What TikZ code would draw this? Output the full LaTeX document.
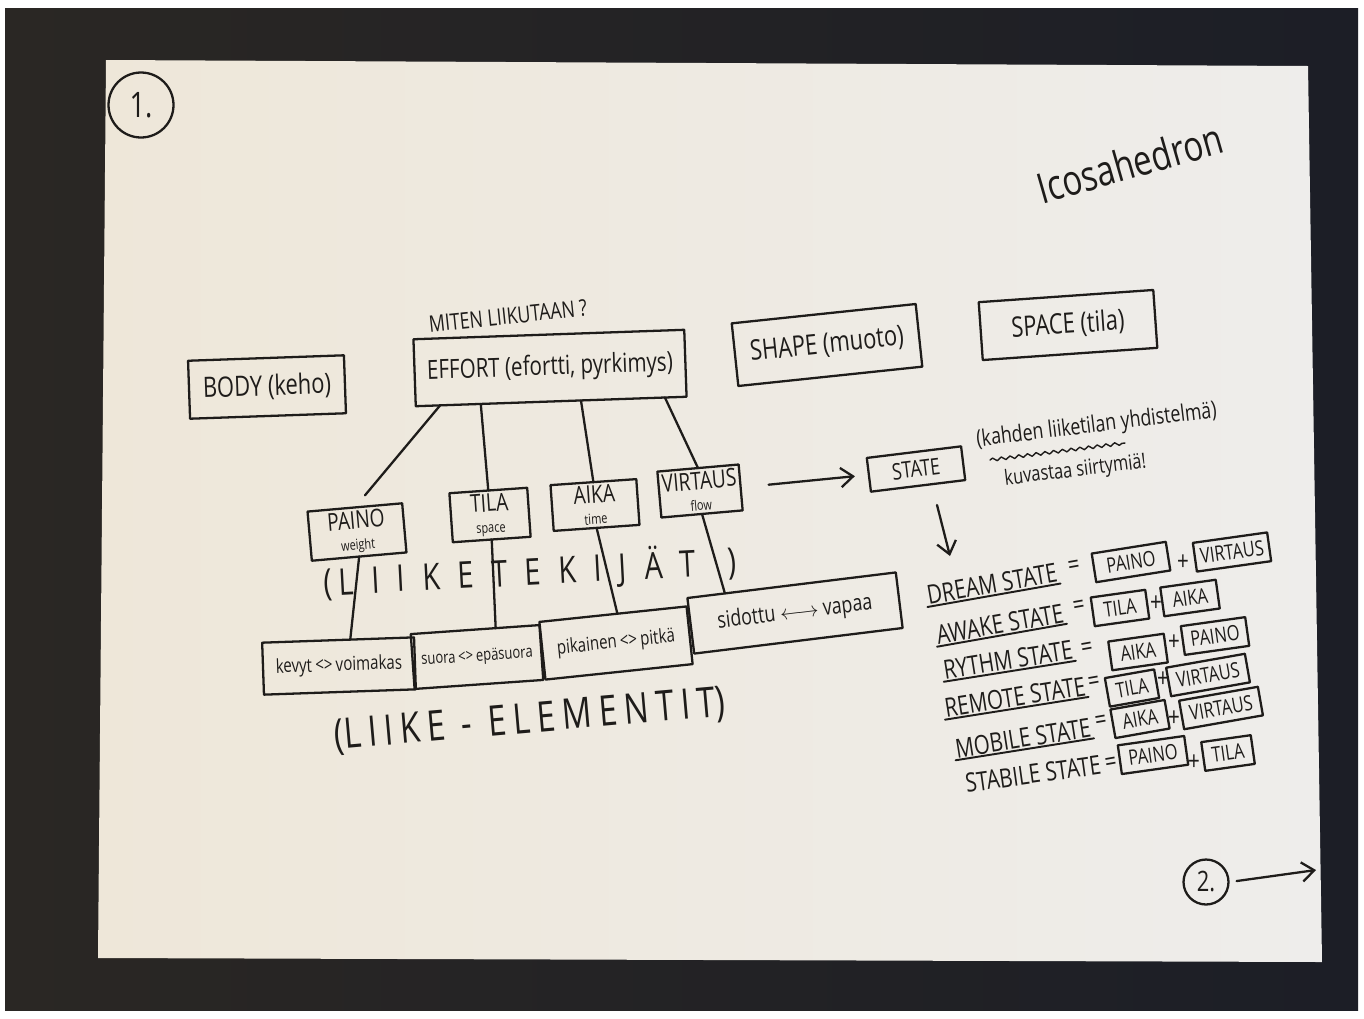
\documentclass[tikz,border=0pt]{standalone}
\usepackage{fontspec}
\setmainfont{Open Sans}[FakeStretch=0.78]
\usetikzlibrary{arrows.meta,calc,decorations.pathmorphing}
\definecolor{inkc}{HTML}{1E1C1A}
\definecolor{paperL}{HTML}{EEE7D9}
\definecolor{paperR}{HTML}{EEEDEB}
\definecolor{deskL}{HTML}{2A2724}
\definecolor{deskR}{HTML}{1C1E26}
\newcommand\fs[1]{\fontsize{#1}{#1}\selectfont}
\begin{document}
\begin{tikzpicture}[x=0.02cm,y=-0.02cm,
  ink/.style={draw=inkc,line width=1.3pt,line cap=round,line join=round},
  box/.style={ink,rectangle,inner sep=2pt,text=inkc,outer sep=0pt},
  hand/.style={text=inkc,inner sep=1pt,outer sep=0pt},
  arr/.style={ink,-{Straight Barb[length=7pt,width=11pt]}},
  fbox/.style={box,minimum height=0.58cm,font=\fs{12}},
  slab/.style={hand,font=\fs{15}},
  sym/.style={hand,font=\fs{15}},
  under/.style={ink,line width=1.1pt}]
\fill[white] (0,0) rectangle (1364,1018);
\shade[left color=deskL,right color=deskR] (5,8) rectangle (1358,1010);
\shade[left color=paperL,right color=paperR] (106,60) -- (1308,66) -- (1322,962) -- (98,958) -- cycle;
\useasboundingbox (0,0) rectangle (1364,1018);

% page number and title
\node[ink,circle,minimum size=1.3cm,text=inkc,font=\fs{20}] (one) at (141,105) {1.};
\node[hand,rotate=16,font=\fs{24}] (ico) at (1130,163) {Icosahedron};

% top boxes
\node[box,rotate=2,minimum width=3.12cm,minimum height=1.16cm,font=\fs{16}] (body) at (267,387) {BODY (keho)};
\node[hand,rotate=6,font=\fs{13}] (miten) at (508,316) {MITEN LIIKUTAAN ?};
\node[box,rotate=2,minimum width=5.42cm,minimum height=1.34cm,font=\fs{15}] (effort) at (550,368) {EFFORT (efortti, pyrkimys)};
\node[box,rotate=6,minimum width=3.7cm,minimum height=1.26cm,font=\fs{16}] (shape) at (827,345) {SHAPE (muoto)};
\node[box,rotate=4,minimum width=3.5cm,minimum height=1.16cm,font=\fs{16}] (space) at (1068,325) {SPACE (tila)};

% factor boxes
\node[box,rotate=5,minimum width=1.9cm,minimum height=0.8cm,align=center,font=\fs{14}] (paino) at (357,532) {PAINO\\[-2pt]{\fs{8}weight}};
\node[box,rotate=4,minimum width=1.56cm,minimum height=0.8cm,align=center,font=\fs{14}] (tila) at (490,515) {TILA\\[-2pt]{\fs{8}space}};
\node[box,rotate=4,minimum width=1.72cm,minimum height=0.8cm,align=center,font=\fs{14}] (aika) at (595,505) {AIKA\\[-2pt]{\fs{8}time}};
\node[box,rotate=5,minimum width=1.6cm,minimum height=0.76cm,align=center,font=\fs{14}] (virtaus) at (700,491) {VIRTAUS\\[-2pt]{\fs{8}flow}};

\draw[ink,shorten >=9pt] ($(effort.south west)!0.09!(effort.south east)$) -- (paino.north);
\draw[ink] ($(effort.south west)!0.24!(effort.south east)$) -- (tila.north);
\draw[ink] ($(effort.south west)!0.61!(effort.south east)$) -- (aika.north);
\draw[ink] ($(effort.south west)!0.92!(effort.south east)$) -- (virtaus.north);

\node[hand,rotate=3,font=\fs{21}] (tekijat) at (530,572) {(\hspace{4pt}L\hspace{10pt}I\hspace{10pt}I\hspace{10pt}K\hspace{10pt}E\hspace{10pt}T\hspace{10pt}E\hspace{10pt}K\hspace{10pt}I\hspace{10pt}J\hspace{10pt}Ä\hspace{10pt}T\hspace{18pt})};

% element boxes
\node[box,rotate=2,minimum width=3.04cm,minimum height=1.04cm,font=\fs{11}] (kevyt) at (339,666) {kevyt\,<>\,voimakas};
\node[box,rotate=4,minimum width=2.58cm,minimum height=1.1cm,font=\fs{9.5}] (suora) at (477,657) {suora\,<>\,epäsuora};
\node[box,rotate=6,minimum width=2.96cm,minimum height=1.16cm,font=\fs{11}] (pikainen) at (616,643) {pikainen\,<>\,pitkä};
\node[box,rotate=7,minimum width=4.2cm,minimum height=1.12cm,font=\fs{13}] (sidottu) at (795,613) {sidottu $\longleftrightarrow$ vapaa};

\draw[ink] (paino.south) -- ($(kevyt.north west)!0.58!(kevyt.north east)$);
\draw[ink] (tila.south) -- ($(suora.north west)!0.66!(suora.north east)$);
\draw[ink] (aika.south) -- ($(pikainen.north west)!0.53!(pikainen.north east)$);
\draw[ink] (virtaus.south) -- ($(sidottu.north west)!0.18!(sidottu.north east)$);

\node[hand,rotate=5,font=\fs{24}] (elementit) at (530,721) {(L\hspace{4pt}I\hspace{4pt}I\hspace{4pt}K\hspace{4pt}E\hspace{9pt}-\hspace{9pt}E\hspace{4pt}L\hspace{4pt}E\hspace{4pt}M\hspace{4pt}E\hspace{4pt}N\hspace{4pt}T\hspace{4pt}I\hspace{4pt}T)};

% state
\node[box,rotate=7,minimum width=1.9cm,minimum height=0.68cm,font=\fs{13}] (state) at (916,469) {STATE};
\draw[arr,shorten <=16pt,shorten >=8pt] (virtaus.east) -- (state.west);
\node[hand,rotate=7,anchor=west,font=\fs{13}] (note1) at (975,441) {(kahden liiketilan yhdistelmä)};
\node[hand,rotate=7,anchor=west,font=\fs{12}] (note2) at (1003,480) {kuvastaa siirtymiä!};
\draw[ink,line width=0.8pt,decorate,decoration={snake,amplitude=0.9pt,segment length=5pt}] (990,460) -- (1125,443);
\coordinate (dnA) at (937,505);
\coordinate (dnB) at (950,556);
\draw[arr] (dnA) -- (dnB);

% state list
\node[slab,rotate=10] (l1) at (992,584) {DREAM STATE};
\draw[under] (l1.south west) -- (l1.south east);
\node[sym,rotate=10] (e1) at (1074,567) {=};
\node[fbox,rotate=9,minimum width=1.5cm] (b1a) at (1131,562) {PAINO};
\node[sym] (p1) at (1183,563) {+};
\node[fbox,rotate=8,minimum width=1.5cm] (b1b) at (1232,552) {VIRTAUS};

\node[slab,rotate=10] (l2) at (1000,624) {AWAKE STATE};
\draw[under] (l2.south west) -- (l2.south east);
\node[sym,rotate=10] (e2) at (1079,607) {=};
\node[fbox,rotate=8,minimum width=1.1cm] (b2a) at (1120,608) {TILA};
\node[sym] (p2) at (1156,604) {+};
\node[fbox,rotate=8,minimum width=1.12cm] (b2b) at (1190,598) {AIKA};

\node[slab,rotate=9] (l3) at (1008,660) {RYTHM STATE};
\draw[under] (l3.south west) -- (l3.south east);
\node[sym,rotate=10] (e3) at (1087,649) {=};
\node[fbox,rotate=8,minimum width=1.12cm] (b3a) at (1138,652) {AIKA};
\node[sym] (p3) at (1174,643) {+};
\node[fbox,rotate=8,minimum width=1.3cm] (b3b) at (1215,636) {PAINO};

\node[slab,rotate=9] (l4) at (1015,697) {REMOTE STATE};
\draw[under] (l4.south west) -- (l4.south east);
\node[sym,rotate=10] (e4) at (1094,683) {=};
\node[fbox,rotate=10,minimum width=1.0cm] (b4a) at (1132,688) {TILA};
\node[sym] (p4) at (1163,680) {+};
\node[fbox,rotate=10,minimum width=1.6cm] (b4b) at (1208,675) {VIRTAUS};

\node[slab,rotate=9] (l5) at (1023,738) {MOBILE STATE};
\draw[under] (l5.south west) -- (l5.south east);
\node[sym,rotate=10] (e5) at (1101,722) {=};
\node[fbox,rotate=10,minimum width=1.1cm] (b5a) at (1140,719) {AIKA};
\node[sym] (p5) at (1174,719) {+};
\node[fbox,rotate=10,minimum width=1.6cm] (b5b) at (1221,708) {VIRTAUS};

\node[slab,rotate=8] (l6) at (1033,774) {STABILE STATE};
\node[sym,rotate=10] (e6) at (1111,764) {=};
\node[fbox,rotate=8,minimum width=1.34cm] (b6a) at (1153,755) {PAINO};
\node[sym] (p6) at (1194,763) {+};
\node[fbox,rotate=8,minimum width=1.0cm] (b6b) at (1228,753) {TILA};

% page 2 marker
\node[ink,circle,minimum size=0.9cm,text=inkc,font=\fs{16}] (two) at (1206,882) {2.};
\coordinate (twoend) at (1316,870);
\draw[arr,shorten <=4pt] (two.east) -- (twoend);
\end{tikzpicture}
\end{document}
